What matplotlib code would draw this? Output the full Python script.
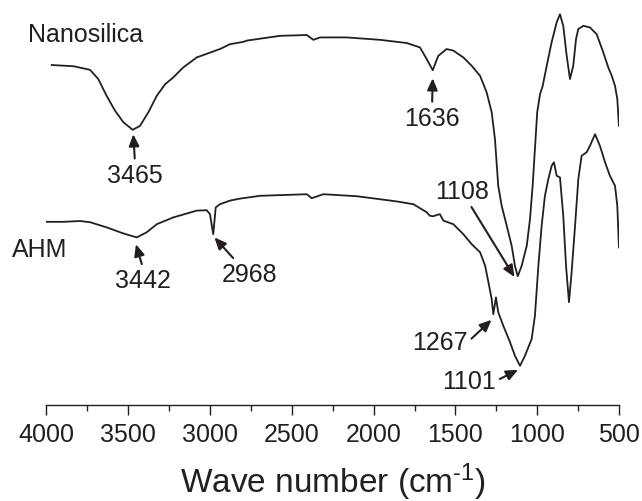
import matplotlib
matplotlib.use("Agg")
import matplotlib.pyplot as plt
from matplotlib.ticker import MultipleLocator

plt.rcParams['font.family'] = ['Liberation Sans', 'DejaVu Sans']
plt.rcParams['mathtext.fontset'] = 'custom'
plt.rcParams['mathtext.rm'] = 'Liberation Sans'
plt.rcParams['mathtext.default'] = 'regular'

INK = '#231f20'

# Nanosilica spectrum (wave number, transmittance a.u.)
nano_wn = [3965, 3833, 3731, 3681, 3630, 3579, 3528, 3471, 3426, 3375, 3324, 3273,
           3223, 3162, 3080, 2938, 2877, 2795, 2775, 2571, 2408, 2368, 2327, 2164,
           1961, 1798, 1717, 1676, 1639, 1605, 1554, 1513, 1452, 1401, 1350, 1310,
           1279, 1259, 1239, 1218, 1187, 1157, 1137, 1120, 1096, 1065, 1045, 1029,
           1015, 1001, 984, 968, 943, 913, 882, 862, 842, 821, 801, 781, 764, 750,
           720, 679, 638, 598, 567, 546, 526, 512, 502]
nano_t = [85.0, 84.7, 83.8, 81.5, 77.3, 73.6, 70.7, 68.8, 69.8, 73.2, 77.3, 80.2,
          81.9, 84.4, 86.9, 89.0, 90.2, 90.8, 91.1, 92.3, 92.5, 91.3, 91.9, 91.9,
          91.3, 90.5, 89.4, 86.5, 83.7, 87.3, 89.0, 88.6, 86.9, 84.8, 82.3, 78.2,
          73.2, 66.5, 54.8, 49.8, 44.8, 39.8, 34.8, 32.2, 34.8, 39.8, 46.5, 54.8,
          64.0, 73.2, 77.7, 79.7, 84.8, 90.7, 95.7, 97.7, 94.8, 87.3, 81.5, 84.8,
          91.5, 94.0, 94.8, 94.4, 92.7, 88.2, 84.4, 82.3, 79.8, 76.5, 69.8]

# AHM spectrum
ahm_wn = [3996, 3894, 3792, 3731, 3629, 3528, 3446, 3385, 3324, 3223, 3080, 3019,
          2999, 2979, 2964, 2938, 2877, 2816, 2694, 2408, 2378, 2307, 2103, 1859,
          1757, 1676, 1656, 1635, 1615, 1595, 1574, 1513, 1452, 1401, 1350, 1319,
          1299, 1279, 1269, 1253, 1239, 1208, 1167, 1137, 1106, 1076, 1035, 1015,
          994, 974, 954, 933, 913, 899, 882, 862, 842, 825, 807, 791, 770, 750,
          730, 699, 679, 648, 618, 587, 557, 526, 512, 502]
ahm_t = [45.8, 45.8, 46.0, 45.7, 44.4, 42.9, 41.9, 43.2, 45.2, 46.9, 48.6, 48.7,
         47.7, 42.7, 49.4, 50.2, 51.1, 51.6, 52.3, 52.7, 51.7, 52.7, 52.2, 50.9,
         50.2, 48.2, 47.3, 47.2, 47.5, 47.7, 46.1, 45.2, 42.7, 40.2, 38.2, 34.8,
         30.7, 26.5, 22.7, 26.9, 23.2, 19.8, 15.7, 12.3, 9.8, 12.3, 16.5, 22.3,
         34.8, 44.8, 52.3, 56.5, 59.8, 60.7, 57.3, 56.9, 47.3, 34.8, 25.7, 33.2,
         44.8, 56.5, 62.3, 63.2, 64.8, 67.7, 64.8, 60.7, 57.3, 54.8, 49.8, 39.4]

# peak labels: text, arrow tip (wn, T), text centre (wn, T), arrow start on text box
peaks = [
    ('3465', 3467, 67.7, 3457, 57.6, (0.5, 1.0)),
    ('1636', 1639, 81.7, 1643, 71.8, (0.5, 1.0)),
    ('3442', 3451, 40.2, 3408, 31.2, (0.5, 1.0)),
    ('2968', 2972, 41.9, 2755, 32.8, (0.26, 1.0)),
    ('1108', 1140, 32.0, 1457, 53.5, (0.62, 0.0)),
    ('1267', 1280, 21.3, 1595, 15.7, (1.0, 0.5)),
    ('1101', 1118, 8.8, 1418, 6.0, (1.0, 0.5)),
]

fig = plt.figure(figsize=(6.42, 5.02), dpi=100)
ax = fig.add_axes([0.0717, 0.1912, 0.8929, 0.7968])

ax.plot(nano_wn, nano_t, color=INK, lw=1.3)
ax.plot(ahm_wn, ahm_t, color=INK, lw=1.3)

ax.text(4110, 92.7, 'Nanosilica', fontsize=18, color=INK, ha='left', va='center')
ax.text(4208, 39.0, 'AHM', fontsize=18, color=INK, ha='left', va='center')

for label, tx, ty, lx, ly, rp in peaks:
    ax.annotate(label, xy=(tx, ty), xytext=(lx, ly), fontsize=18, color=INK,
                ha='center', va='center',
                arrowprops=dict(arrowstyle='-|>,head_length=0.5,head_width=0.22',
                                color=INK, lw=1.5, mutation_scale=14,
                                shrinkA=1, shrinkB=0, relpos=rp))

ax.set_xlim(4000, 500)
ax.set_ylim(0, 100)
ax.xaxis.set_major_locator(MultipleLocator(500))
ax.xaxis.set_minor_locator(MultipleLocator(250))
ax.tick_params(axis='x', which='major', direction='out', length=7, width=1,
               labelsize=18, colors=INK, pad=5)
ax.tick_params(axis='x', which='minor', direction='out', length=4, width=1, colors=INK)
ax.set_yticks([])
for s in ['left', 'right', 'top']:
    ax.spines[s].set_visible(False)
ax.spines['bottom'].set_color(INK)
ax.spines['bottom'].set_linewidth(1)

# x label placed by hand so the brackets stay inside the canvas
fig.text(0.518, 9 / 502, r'Wave number (cm$^{\text{-}1}$)', fontsize=24, color=INK,
         ha='center', va='baseline')

fig.savefig('out.png', dpi=100)
